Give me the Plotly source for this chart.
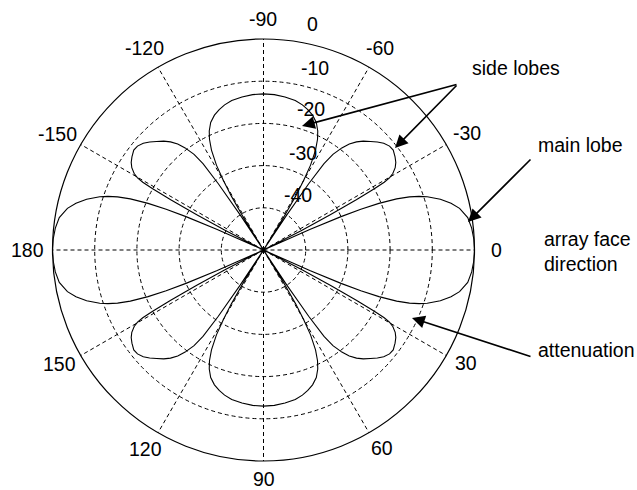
import numpy as np
import plotly.graph_objects as go

# Beam pattern of the array, one quadrant (0..90 deg), gain in dB.
# The pattern is symmetric about both the array face axis and its normal.
quad_angle = [0, 3, 6, 9, 12, 14, 16, 18, 19, 20, 21, 22, 22.7, 23.3, 24, 25.5,
              27.0, 27.8, 28.4, 28.9, 29.3, 29.8, 30.6, 32, 33.5, 35.3, 37.6, 39.5,
              41.6, 43.5, 45.4, 47.5, 49.3, 51, 52.5, 54, 55, 55.7, 56.4, 57.4,
              58.4, 59.2, 60, 61, 62.5, 64, 65.5, 67.5, 70, 72.5, 75, 78, 82, 86, 90]
quad_gain = [0, -0.1, -0.4, -1.0, -2.5, -4.2, -6.4, -9.2, -11.0, -13.2, -16.2, -20.5,
             -25, -30, -38, -50,
             -40, -32, -25, -20, -17.2, -15.6, -14.4, -13.2, -12.4, -11.8, -11.2, -11.3,
             -11.9, -12.8, -13.9, -15.0, -16.2, -17.7, -19.5, -22, -25, -31, -40, -50,
             -41, -35, -31, -27, -23.3, -20.8, -19.0, -17.3, -16.0, -15.1, -14.4, -13.8,
             -13.4, -13.1, -13.0]

angle_ticks = [0, 30, 60, 90, 120, 150, 180, 210, 240, 270, 300, 330]
angle_text = ["0", "30", "60", "90", "120", "150", "180", "-150", "-120", "-90", "-60", "-30"]
ring_values = [-40, -30, -20, -10]
ring_labels = ["0", "-10", "-20", "-30", "-40"]

# Full sweep built by reflecting the quadrant
qa = np.array(quad_angle, dtype=float)
qg = np.array(quad_gain, dtype=float)
theta = np.concatenate([qa, 180 - qa[::-1][1:], 180 + qa[1:], 360 - qa[::-1][1:]])
gain = np.concatenate([qg, qg[::-1][1:], qg[1:], qg[::-1][1:]])

W, H = 637, 490
FONT = "Liberation Sans, Arial, sans-serif"
FS = 19.5


def px(x):
    return x / W


def py(y):
    return 1 - y / H


def label(text, x, y, anchor="center"):
    fig.add_annotation(x=px(x), y=py(y), xref="paper", yref="paper", text=text,
                       showarrow=False, xanchor=anchor, yanchor="middle", align="left",
                       font=dict(family=FONT, size=FS, color="black"))


fig = go.Figure()
fig.add_trace(go.Scatterpolar(
    r=gain, theta=theta, mode="lines",
    line=dict(color="black", width=1.1),
    hoverinfo="skip", showlegend=False,
))

cx, cy, R = 263.5, 250, 211
fig.update_layout(
    width=W, height=H,
    margin=dict(l=0, r=0, t=0, b=0),
    paper_bgcolor="white",
    showlegend=False,
    font=dict(family=FONT, size=FS, color="black"),
    polar=dict(
        domain=dict(x=[px(cx - R), px(cx + R)], y=[py(cy + R), py(cy - R)]),
        bgcolor="white",
        radialaxis=dict(
            range=[-50, 0], tickvals=ring_values, showticklabels=False,
            ticks="", showline=False, gridcolor="black", gridwidth=1,
            griddash="4px,3px",
        ),
        angularaxis=dict(
            direction="clockwise", rotation=0,
            tickvals=angle_ticks, showticklabels=False, ticks="",
            showline=True, linecolor="black", linewidth=1.2,
            gridcolor="black", gridwidth=1, griddash="4px,3px",
        ),
    ),
)

# Bearing labels around the rim
angle_label_pos = [(496.5, 250), (466, 363), (382, 448), (264, 478.5), (145, 448.5),
                   (59, 363.5), (27.5, 250), (57, 133.5), (144, 48.5), (263, 18.5),
                   (380, 48.5), (466.5, 132.5)]
for txt, (x, y) in zip(angle_text, angle_label_pos):
    label(txt, x, y)

# dB labels on the rings
ring_label_pos = [(312.5, 24), (315, 67.5), (311, 109), (303, 152.5), (298, 194.5)]
for txt, (x, y) in zip(ring_labels, ring_label_pos):
    label(txt, x, y)

# Callout text
label("side lobes", 515.5, 68)
label("main lobe", 580.5, 145)
label("array face<br>direction", 542, 252, "left")
label("attenuation", 586, 350)

# Callout arrows: (tail x, tail y, head x, head y)
arrows = [
    (458, 84, 302, 126),
    (458, 84, 395, 148),
    (532, 158, 468, 222),
    (532, 357, 412, 318),
]
for x0, y0, x1, y1 in arrows:
    fig.add_annotation(x=px(x1), y=py(y1), xref="paper", yref="paper",
                       ax=x0 - x1, ay=y0 - y1, axref="pixel", ayref="pixel",
                       text="", showarrow=True, arrowhead=2, arrowsize=1.6,
                       arrowwidth=1.6, arrowcolor="black", standoff=0)

fig.write_html("out.html")
